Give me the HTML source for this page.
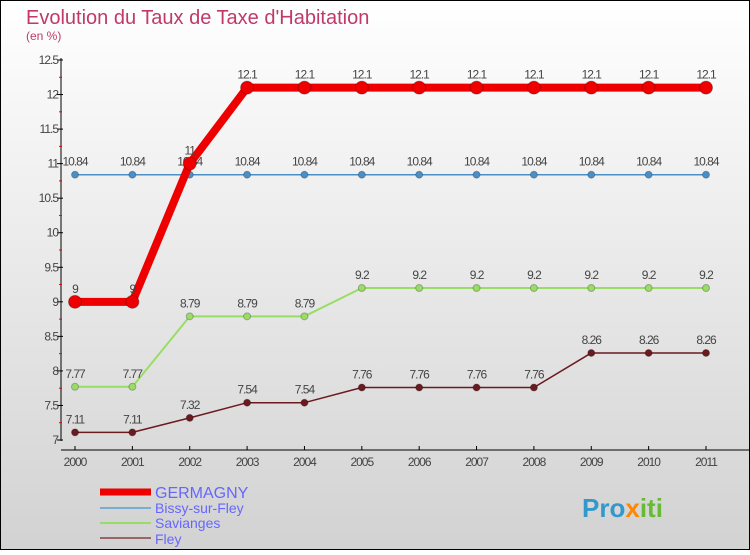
<!DOCTYPE html>
<html><head><meta charset="utf-8"><style>
body{margin:0}
#c{width:750px;height:550px;position:relative;font-family:"Liberation Sans",sans-serif}
</style></head><body>
<div id="c">
<svg id="s" width="750" height="550" xmlns="http://www.w3.org/2000/svg">
<defs><linearGradient id="bg" x1="0" y1="0" x2="0" y2="1"><stop offset="0" stop-color="#ffffff"/><stop offset="1" stop-color="#d2d2d2"/></linearGradient></defs>
<rect x="0.5" y="0.5" width="749" height="549" fill="url(#bg)" stroke="#000"/>
<text x="26" y="24" font-size="20" fill="#c0396a">Evolution du Taux de Taxe d'Habitation</text>
<text x="26" y="40" font-size="12" fill="#c0396a">(en %)</text>
<g id="axes"></g><g id="series"></g>
<g>
<line x1="100" y1="492" x2="151" y2="492" stroke="#ee0000" stroke-width="7"/>
<text x="155" y="498" font-size="16" fill="#6666ff">GERMAGNY</text>
<line x1="100" y1="508" x2="151" y2="508" stroke="#7aaed0" stroke-width="2"/>
<text x="155" y="513" font-size="14" fill="#6666ff">Bissy-sur-Fley</text>
<line x1="100" y1="523" x2="151" y2="523" stroke="#99dd66" stroke-width="2"/>
<text x="155" y="528" font-size="14" fill="#6666ff">Savianges</text>
<line x1="100" y1="538" x2="151" y2="538" stroke="#996666" stroke-width="2"/>
<text x="155" y="544" font-size="14" fill="#6666ff">Fley</text>
</g>
<text x="582" y="517" font-size="26" font-weight="bold" fill="#3399cc">Pro<tspan fill="#ff8800">x</tspan><tspan fill="#66bb33">iti</tspan></text>
</svg>
</div>
<script>
const years=[2000,2001,2002,2003,2004,2005,2006,2007,2008,2009,2010,2011];
const germagny=[9,9,11,12.1,12.1,12.1,12.1,12.1,12.1,12.1,12.1,12.1];
const bissy=[10.84,10.84,10.84,10.84,10.84,10.84,10.84,10.84,10.84,10.84,10.84,10.84];
const savianges=[7.77,7.77,8.79,8.79,8.79,9.2,9.2,9.2,9.2,9.2,9.2,9.2];
const fley=[7.11,7.11,7.32,7.54,7.54,7.76,7.76,7.76,7.76,8.26,8.26,8.26];
const yTicks=[7,7.5,8,8.5,9,9.5,10,10.5,11,11.5,12,12.5];
const NS="http://www.w3.org/2000/svg";
const x=i=>75+i*(706-75)/(years.length-1);
const y=v=>440-(v-7)*(380/5.5);
function mk(t,a,p){const e=document.createElementNS(NS,t);for(const k in a)e.setAttribute(k,a[k]);p.appendChild(e);return e;}
const ax=document.getElementById('axes');
const yl=mk('line',{x1:61,y1:58,x2:61,y2:441,stroke:'#000'},ax);


const xl=mk('line',{x1:61,y1:450,x2:750,y2:450,stroke:'#000'},ax);


yTicks.forEach(v=>{
  mk('line',{x1:57,y1:y(v),x2:63,y2:y(v),stroke:'#000'},ax);
  if(v<12.5)mk('line',{x1:59,y1:y(v+0.25),x2:62,y2:y(v+0.25),stroke:'#e00'},ax);
  const t=mk('text',{x:58,y:y(v)+4,'font-size':12,fill:'#444','text-anchor':'end','letter-spacing':'-1'},ax);
  t.textContent=String(v);
  
  
});
years.forEach((yr,i)=>{
  mk('line',{x1:x(i),y1:446,x2:x(i),y2:450,stroke:'#000'},ax);
  const t=mk('text',{x:x(i),y:466,'font-size':12,fill:'#444','text-anchor':'middle','letter-spacing':'-1'},ax);
  t.textContent=yr;
  
  
});
const sg=document.getElementById('series');
function series(name,data,color,w,r){
  const g=mk('g',{},sg);
  
  
  const pl=mk('polyline',{points:data.map((v,i)=>x(i)+','+y(v)).join(' '),fill:'none',stroke:color,'stroke-width':w,'stroke-linejoin':'round'},g);
  
  
  data.forEach((v,i)=>{
    const c=mk('circle',{cx:x(i),cy:y(v),r:r,fill:color,stroke:'rgba(0,0,0,0.25)'},g);
    
    
    const t=mk('text',{x:x(i),y:y(v)-9,'font-size':12,fill:'#444','text-anchor':'middle','letter-spacing':'-1'},g);
    t.textContent=String(v);
    
    
  });
}
series('fley',fley,'#6b1a1f',1.5,3.5);
series('savianges',savianges,'#99dd66',2,3.5);
series('bissy',bissy,'#4a8fc8',1.5,3.5);
series('germagny',germagny,'#ee0000',8,6.5);
</script>
</body></html>
